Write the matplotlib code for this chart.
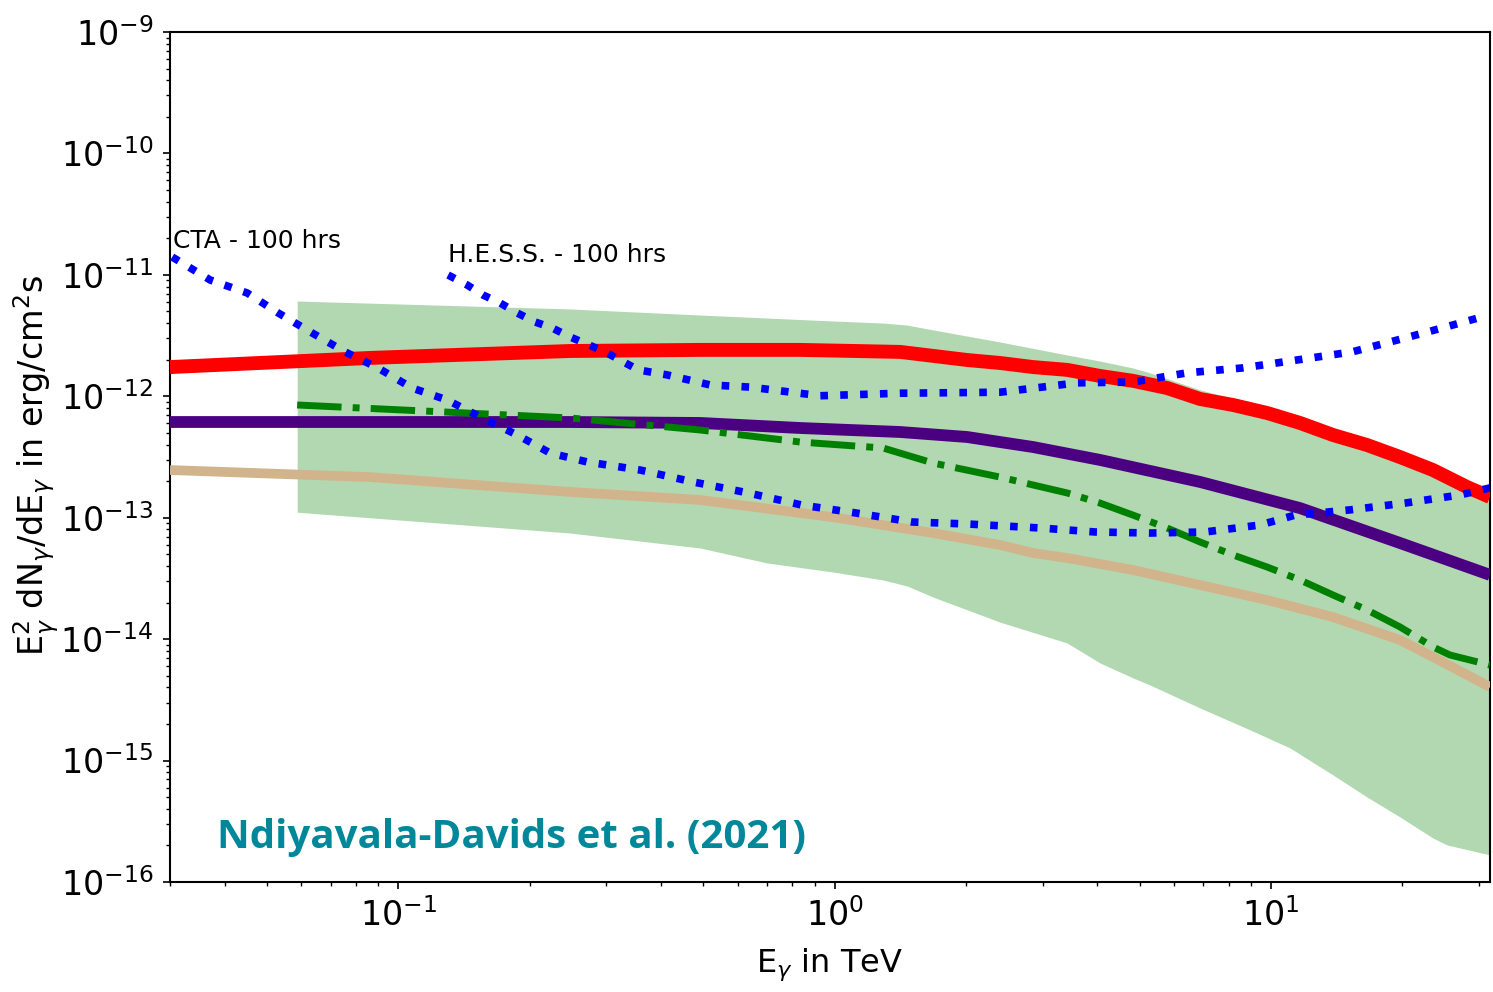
import matplotlib
matplotlib.use("Agg")
import matplotlib.pyplot as plt
from matplotlib.ticker import NullFormatter

# ---------------- data (E in TeV, E^2 dN/dE in erg/cm^2/s) ----------------
red_E = [0.0300, 0.0863, 0.2477, 0.4918, 0.8337, 1.4128, 2.0119, 2.3945, 2.8497, 3.4096, 4.0578, 4.8295,
         5.7777, 6.877, 8.1846, 9.7903, 11.652, 13.868, 16.593, 19.75, 23.503, 28.12, 31.75]
red_F = [1.74e-12, 2.07e-12, 2.36e-12, 2.41e-12, 2.41e-12, 2.32e-12, 1.99e-12, 1.88e-12, 1.74e-12, 1.65e-12,
         1.47e-12, 1.34e-12, 1.17e-12, 9.50e-13, 8.48e-13, 7.29e-13, 6.03e-13, 4.80e-13, 3.97e-13, 3.16e-13,
         2.47e-13, 1.79e-13, 1.48e-13]

purple_E = [0.0300, 0.2477, 0.4918, 0.8337, 1.4128, 2.0119, 2.3945, 2.8497, 4.0578, 6.877, 11.652, 19.75, 31.75]
purple_F = [6.14e-13, 6.14e-13, 6.03e-13, 5.48e-13, 5.08e-13, 4.62e-13, 4.20e-13, 3.82e-13, 2.99e-13,
            1.97e-13, 1.20e-13, 6.19e-14, 3.38e-14]

green_E = [0.05868, 0.2477, 0.4918, 0.8337, 1.2915, 1.6815, 2.3945, 2.8497, 3.4096, 4.0578, 4.8295, 5.7777,
           6.877, 8.1846, 9.7903, 11.652, 13.868, 16.593, 19.75, 23.503, 25.71, 31.75]
green_F = [8.48e-13, 6.63e-13, 5.28e-13, 4.20e-13, 3.75e-13, 2.82e-13, 2.16e-13, 1.86e-13, 1.60e-13, 1.32e-13,
           1.05e-13, 8.23e-14, 6.31e-14, 4.93e-14, 3.93e-14, 3.07e-14, 2.31e-14, 1.74e-14, 1.26e-14, 8.62e-15,
           7.40e-15, 6.12e-15]

tan_E = [0.0300, 0.0863, 0.2477, 0.4918, 0.9922, 1.6815, 2.3945, 2.8497, 3.4096, 4.8295, 6.877, 9.7903,
         13.868, 19.75, 23.503, 31.75]
tan_F = [2.47e-13, 2.16e-13, 1.63e-13, 1.40e-13, 1.01e-13, 7.48e-14, 5.96e-14, 5.12e-14, 4.66e-14, 3.71e-14,
         2.79e-14, 2.10e-14, 1.52e-14, 9.84e-15, 7.13e-15, 4.04e-15]

band_E = [0.05868, 0.2477, 0.4918, 0.7005, 0.9922, 1.2915, 1.466, 1.6815, 2.3945, 3.4096, 4.0578, 4.8295,
          5.2818, 6.877, 8.9514, 11.053, 13.868, 16.593, 19.75, 23.503, 25.30, 31.75]
band_hi = [6.09e-12, 5.24e-12, 4.67e-12, 4.41e-12, 4.17e-12, 4.01e-12, 3.86e-12, 3.52e-12, 2.80e-12, 2.19e-12,
           1.95e-12, 1.71e-12, 1.56e-12, 1.13e-12, 8.81e-13, 7.29e-13, 4.98e-13, 3.90e-13, 3.16e-13, 2.47e-13,
           2.21e-13, 1.76e-13]
band_lo = [1.11e-13, 7.48e-14, 5.63e-14, 4.24e-14, 3.57e-14, 3.07e-14, 2.74e-14, 2.22e-14, 1.38e-14, 9.30e-15,
           6.36e-15, 4.79e-15, 4.19e-15, 2.71e-15, 1.79e-15, 1.27e-15, 7.61e-16, 5.01e-16, 3.43e-16, 2.30e-16,
           2.02e-16, 1.67e-16]

cta_E = [0.03035, 0.03709, 0.04509, 0.05312, 0.06353, 0.07557, 0.08991, 0.1076, 0.1295, 0.1558, 0.1874,
         0.2229, 0.2710, 0.3584, 0.4740, 0.6336, 0.8423, 1.1259, 1.5049, 2.0119, 2.9565, 3.9530, 5.2818,
         7.0616, 9.4356, 11.350, 15.171, 20.276, 27.101, 31.75]
cta_F = [1.403e-11, 9.07e-12, 7.09e-12, 4.85e-12, 3.32e-12, 2.32e-12, 1.71e-12, 1.17e-12, 9.32e-13, 6.63e-13,
         4.80e-13, 3.41e-13, 2.88e-13, 2.47e-13, 1.97e-13, 1.60e-13, 1.27e-13, 1.09e-13, 9.22e-14, 8.88e-14,
         8.23e-14, 7.63e-14, 7.48e-14, 7.63e-14, 8.71e-14, 1.05e-13, 1.16e-13, 1.32e-13, 1.54e-13, 1.76e-13]

hess_E = [0.1301, 0.1439, 0.1565, 0.1713, 0.1874, 0.2060, 0.2254, 0.2477, 0.2979, 0.3546, 0.4133, 0.5185,
          0.6404, 0.9264, 1.4128, 2.3945, 3.5940, 4.8295, 6.4209, 8.5817, 11.471, 15.332, 20.276, 24.65, 29.80]
hess_F = [9.97e-12, 8.25e-12, 6.82e-12, 5.86e-12, 4.85e-12, 4.09e-12, 3.65e-12, 3.08e-12, 2.32e-12, 1.65e-12,
          1.50e-12, 1.24e-12, 1.19e-12, 1.01e-12, 1.06e-12, 1.08e-12, 1.29e-12, 1.31e-12, 1.56e-12, 1.71e-12,
          1.99e-12, 2.32e-12, 3.02e-12, 3.65e-12, 4.41e-12]

xlim = (0.0300, 31.75)
ylim = (1e-16, 1e-9)

# ---------------- figure ----------------
fig = plt.figure(figsize=(14.93, 9.92), dpi=100)
ax = fig.add_axes([170 / 1493, 1 - 882 / 992, (1490 - 170) / 1493, (882 - 32) / 992])
ax.set_xscale("log")
ax.set_yscale("log")
ax.set_xlim(*xlim)
ax.set_ylim(*ylim)

ax.fill_between(band_E, band_lo, band_hi, color="green", alpha=0.3, linewidth=0, zorder=1)
ax.plot(red_E, red_F, color="#ff0000", lw=10, solid_capstyle="butt", zorder=3)
ax.plot(purple_E, purple_F, color="#4b0082", lw=8.5, solid_capstyle="butt", zorder=3)
ax.plot(tan_E, tan_F, color="#d2b48c", lw=7, solid_capstyle="butt", zorder=3)
ax.plot(green_E, green_F, color="green", lw=5, linestyle="-.", zorder=4)
ax.plot(cta_E, cta_F, color="#0000ff", lw=5.5, linestyle=(0, (1, 1.6)), dash_capstyle="butt", zorder=5)
ax.plot(hess_E, hess_F, color="#0000ff", lw=5.5, linestyle=(0, (1, 1.6)), dash_capstyle="butt", zorder=5)

ax.text(0.002, 0.746, "CTA - 100 hrs", fontsize=18, ha="left", va="baseline", transform=ax.transAxes)
ax.text(0.2106, 0.7294, "H.E.S.S. - 100 hrs", fontsize=18, ha="left", va="baseline", transform=ax.transAxes)
ax.text(0.0356, 0.04, "Ndiyavala-Davids et al. (2021)", fontsize=29, fontweight="bold",
        color="#00889a", family="Open Sans", ha="left", va="baseline", transform=ax.transAxes)

ax.xaxis.set_minor_formatter(NullFormatter())
ax.yaxis.set_minor_formatter(NullFormatter())
ax.tick_params(axis="both", which="major", labelsize=24, length=5, width=1.2, direction="out", pad=7)
ax.tick_params(axis="both", which="minor", length=3, width=1.0, direction="out")
for s in ax.spines.values():
    s.set_linewidth(1.5)

ax.set_xlabel(r"E$_\gamma$ in TeV", fontsize=23, va="center")
ax.xaxis.set_label_coords(0.5, -0.097)
ax.set_ylabel(r"E$_\gamma^2$ dN$_\gamma$/dE$_\gamma$ in erg/cm$^2$s", fontsize=24, va="center")
ax.yaxis.set_label_coords(-0.101, 0.49)

fig.savefig("out.png", dpi=100)
